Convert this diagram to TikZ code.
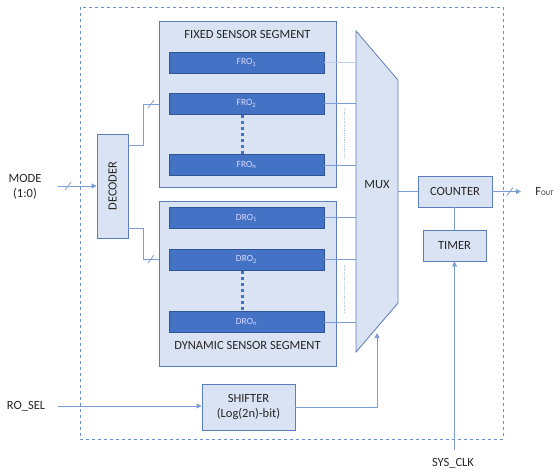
\documentclass[tikz,border=0pt]{standalone}
\usepackage{fontspec}
\setmainfont{Carlito}
\usetikzlibrary{arrows.meta}
\definecolor{wire}{HTML}{4472C4}
\definecolor{boxfill}{HTML}{DAE3F3}
\definecolor{boxline}{HTML}{5B7DB8}
\definecolor{barfill}{HTML}{4472C4}
\definecolor{barline}{HTML}{2F5597}
\definecolor{txt}{HTML}{262626}
\begin{document}
\begin{tikzpicture}[x=1pt,y=-1pt,line width=0.6pt,
	segbox/.style={draw=boxline,fill=boxfill,anchor=north west,inner sep=0pt},
	blockbox/.style={draw=boxline,fill=boxfill,line width=0.8pt,inner sep=0pt,align=center,text=txt,font=\fontsize{12.5}{15}\selectfont},
	robar/.style={draw=barline,fill=barfill,minimum width=155pt,minimum height=21pt,inner sep=0pt,text=white!85!blue,font=\fontsize{9.5}{10}\selectfont},
	wireline/.style={draw=wire!70,line width=0.8pt},
	arr/.style={wireline,-{Triangle[length=5pt,width=5pt]}},
	lbl/.style={text=txt,align=center,font=\fontsize{12.5}{15}\selectfont}]
	\useasboundingbox (0,0) rectangle (557,475);
	% outer boundary
	\draw[wire!80,dashed,line width=0.9pt] (80,7) rectangle (503,439);
	% sensor segments
	\node[segbox,minimum width=177pt,minimum height=166pt] (fixed) at (159,21) {};
	\node[segbox,minimum width=177pt,minimum height=165pt] (dynamic) at (159,201) {};
	\node[lbl] (fixedlbl) at (247.5,34) {FIXED SENSOR SEGMENT};
	\node[lbl] (dynamiclbl) at (247.5,345) {DYNAMIC SENSOR SEGMENT};
	% ring oscillators
	\node[robar] (fro1) at (246.5,62.5) {FRO\textsubscript{1}};
	\node[robar] (fro2) at (246.5,103.5) {FRO\textsubscript{2}};
	\node[robar] (fron) at (246.5,165) {FRO\textsubscript{n}};
	\node[robar] (dro1) at (246.5,217.5) {DRO\textsubscript{1}};
	\node[robar] (dro2) at (246.5,259.5) {DRO\textsubscript{2}};
	\node[robar] (dron) at (246.5,322) {DRO\textsubscript{n}};
	\draw[barfill,line width=3pt,dash pattern=on 3pt off 3pt] (242,115) -- (242,154);
	\draw[barfill,line width=3pt,dash pattern=on 3pt off 3pt] (242,271) -- (242,311);
	% multiplexer
	\coordinate (muxw) at (356,0);
	\coordinate (muxe) at (398,0);
	\draw[boxline,fill=boxfill,line width=0.8pt] (356,31) -- (398,80) -- (398,303) -- (356,352) -- cycle;
	\node[lbl] (mux) at (377,185) {MUX};
	\draw[wireline,draw=wire!35] (fro1.east) -- (fro1.east -| muxw);
	\foreach \ro in {fro2,fron,dro1,dro2,dron}
		\draw[wireline] (\ro.east) -- (\ro.east -| muxw);
	\draw[wire!40,line width=0.8pt,densely dotted] (344,108) -- (344,158);
	\draw[wire!40,line width=0.8pt,densely dotted] (344,265) -- (344,313);
	% decoder
	\node[blockbox,minimum width=31pt,minimum height=104pt] (dec) at (112.5,186) {\rotatebox{90}{DECODER}};
	\node[lbl] (mode) at (25,187) {MODE\\(1:0)};
	\draw[arr] (58,186) -- (dec.west);
	\draw[wireline] (65,190) -- (71,182);
	\coordinate (decup) at (143,104);
	\coordinate (decdn) at (143,259);
	\draw[wireline] (dec.east |- 0,145) -| (decup) -- (decup -| fixed.west);
	\draw[wireline] (dec.east |- 0,228) -| (decdn) -- (decdn -| dynamic.west);
	\draw[wireline] (148,108) -- (154,100);
	\draw[wireline] (148,263) -- (154,255);
	% counter and timer
	\node[blockbox,minimum width=74pt,minimum height=31pt] (counter) at (455,191.5) {COUNTER};
	\node[blockbox,minimum width=63pt,minimum height=31pt] (timer) at (454.5,245.5) {TIMER};
	\draw[wireline] (counter.west) -- (counter.west -| muxe);
	\draw[wireline] (counter.south -| timer.north) -- (timer.north);
	\draw[arr] (counter.east) -- (521,191.5);
	\draw[wireline] (507,195.5) -- (513,187.5);
	\node[lbl,anchor=west,inner sep=0pt] (fout) at (535,191.5) {F{\fontsize{7}{8}\selectfont OUT}};
	\node[lbl] (sysclk) at (453,463) {SYS\_CLK};
	\coordinate (clkin) at (454.5,450);
	\draw[arr] (clkin) -- (timer.south);
	% shifter
	\node[blockbox,minimum width=93pt,minimum height=46pt] (shifter) at (248.5,407) {SHIFTER\\(Log(2n)-bit)};
	\node[lbl] (rosel) at (26,406) {RO\_SEL};
	\draw[arr] (58,406) -- (shifter.west |- 0,406);
	\coordinate (selin) at (377,333);
	\draw[arr] (shifter.east) -| (selin);
\end{tikzpicture}
\end{document}
